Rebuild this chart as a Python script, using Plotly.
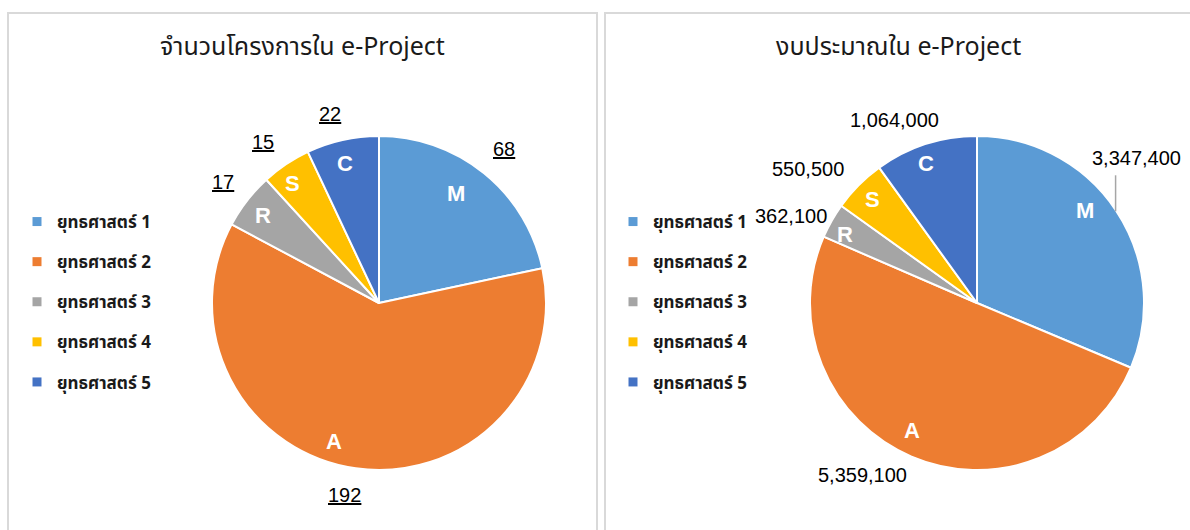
import math
import plotly.graph_objects as go

# ---------------- data ----------------
legend_labels = ["ยุทธศาสตร์ 1", "ยุทธศาสตร์ 2", "ยุทธศาสตร์ 3", "ยุทธศาสตร์ 4", "ยุทธศาสตร์ 5"]
slice_letters = ["M", "A", "R", "S", "C"]
project_counts = [68, 192, 17, 15, 22]
budget_values = [3347400, 5359100, 362100, 550500, 1064000]
title_left = "จำนวนโครงการใน e-Project"
title_right = "งบประมาณใน e-Project"

# ---------------- style ----------------
colors = ["#5B9BD5", "#ED7D31", "#A5A5A5", "#FFC000", "#4472C4"]
W, H = 1190, 530
THAI = "Noto Sans Thai, Tahoma, Leelawadee UI, Noto Sans, sans-serif"
LAT = "Liberation Sans, Arial, sans-serif"

# pie geometry (pixels)
pies = [
    dict(cx=379, cy=303, r=167, values=project_counts, fmt=lambda v: f"<u>{v}</u>",
         lab_r=[1.19, 1.17, 1.18, 1.19, 1.17], lab_da=[0, 2, 0, -2, -2],
         let_r=[0.80, 0.87, 0.87, 0.88, 0.86], let_da=[-4, 10, -1, -2, -1]),
    dict(cx=977, cy=303, r=167, values=budget_values, fmt=lambda v: f"{v:,}",
         lab_r=[1.29, 1.24, 1.23, 1.29, 1.20], lab_da=[-8.6, 10.5, -4.3, -6.5, -6.3],
         let_r=[0.85, 0.86, 0.89, 0.88, 0.89], let_da=[-7, 4, -2, 0, -2]),
]

def px(x):
    return x / W

def py(y):
    return 1 - y / H

def note(x, y, text, font):
    return dict(x=px(x), y=py(y), xref="paper", yref="paper", text=text,
                xanchor="center", yanchor="middle", showarrow=False, font=font)

fig = go.Figure()
annotations = []
shapes = []

for k, p in enumerate(pies):
    fig.add_trace(go.Pie(
        values=p["values"], labels=legend_labels, sort=False, direction="clockwise",
        rotation=0, marker=dict(colors=colors, line=dict(color="white", width=2)),
        textinfo="none", hoverinfo="label+value", showlegend=False,
        domain=dict(x=[px(p["cx"] - p["r"]), px(p["cx"] + p["r"])],
                    y=[py(p["cy"] + p["r"]), py(p["cy"] - p["r"])]),
    ))
    total = sum(p["values"])
    start = 0.0
    for i, v in enumerate(p["values"]):
        span = v / total * 360
        mid = start + span / 2
        start += span
        # inside letter
        a = math.radians(mid + p["let_da"][i])
        rr = p["r"] * p["let_r"][i]
        annotations.append(note(p["cx"] + rr * math.sin(a), p["cy"] - rr * math.cos(a),
                                f"<b>{slice_letters[i]}</b>",
                                dict(family=LAT, size=22, color="white")))
        # outside value label
        a = math.radians(mid + p["lab_da"][i])
        rr = p["r"] * p["lab_r"][i]
        lx = p["cx"] + rr * math.sin(a)
        ly = p["cy"] - rr * math.cos(a)
        annotations.append(note(lx, ly, p["fmt"](v), dict(family=LAT, size=20, color="black")))
        if k == 1 and i == 0:
            # leader line from label to slice
            shapes.append(dict(type="line", xref="paper", yref="paper",
                               x0=px(lx - 21), x1=px(lx - 21), y0=py(ly + 17), y1=py(ly + 53),
                               line=dict(color="#A6A6A6", width=1.5)))

# legend entries (one per strategy, per panel)
for k, leg in enumerate(["legend", "legend2"]):
    for i, lab in enumerate(legend_labels):
        fig.add_trace(go.Scatter(
            x=[None], y=[None], mode="markers", name=lab,
            marker=dict(symbol="square", size=9, color=colors[i]),
            legend=leg, legendgroup=f"{leg}_{i}", showlegend=True, hoverinfo="skip"))

# panel borders
shapes.append(dict(type="rect", xref="paper", yref="paper", x0=px(8), x1=px(597),
                   y0=py(545), y1=py(13), line=dict(color="#D9D9D9", width=2)))
shapes.append(dict(type="rect", xref="paper", yref="paper", x0=px(605), x1=px(1205),
                   y0=py(545), y1=py(13), line=dict(color="#D9D9D9", width=2)))

# titles
annotations.append(note(302, 47, title_left, dict(family=THAI, size=25, color="#1a1a1a")))
annotations.append(note(898, 47, title_right, dict(family=THAI, size=25, color="#1a1a1a")))

legend_style = dict(font=dict(family=THAI, size=17, color="#1a1a1a", weight="bold"),
                    tracegroupgap=15, traceorder="grouped", bgcolor="rgba(0,0,0,0)",
                    xanchor="left", yanchor="top", itemclick=False, itemdoubleclick=False)

fig.update_layout(
    width=W, height=H, margin=dict(l=0, r=0, t=0, b=0),
    paper_bgcolor="white", plot_bgcolor="white",
    xaxis=dict(visible=False, domain=[0, 0.01]), yaxis=dict(visible=False, domain=[0, 0.01]),
    legend=dict(x=px(17), y=py(204), **legend_style),
    legend2=dict(x=px(613), y=py(204), **legend_style),
    annotations=annotations, shapes=shapes,
)

fig.write_html("out.html", config={"displayModeBar": False},
               post_script="document.body.style.margin='0';")
